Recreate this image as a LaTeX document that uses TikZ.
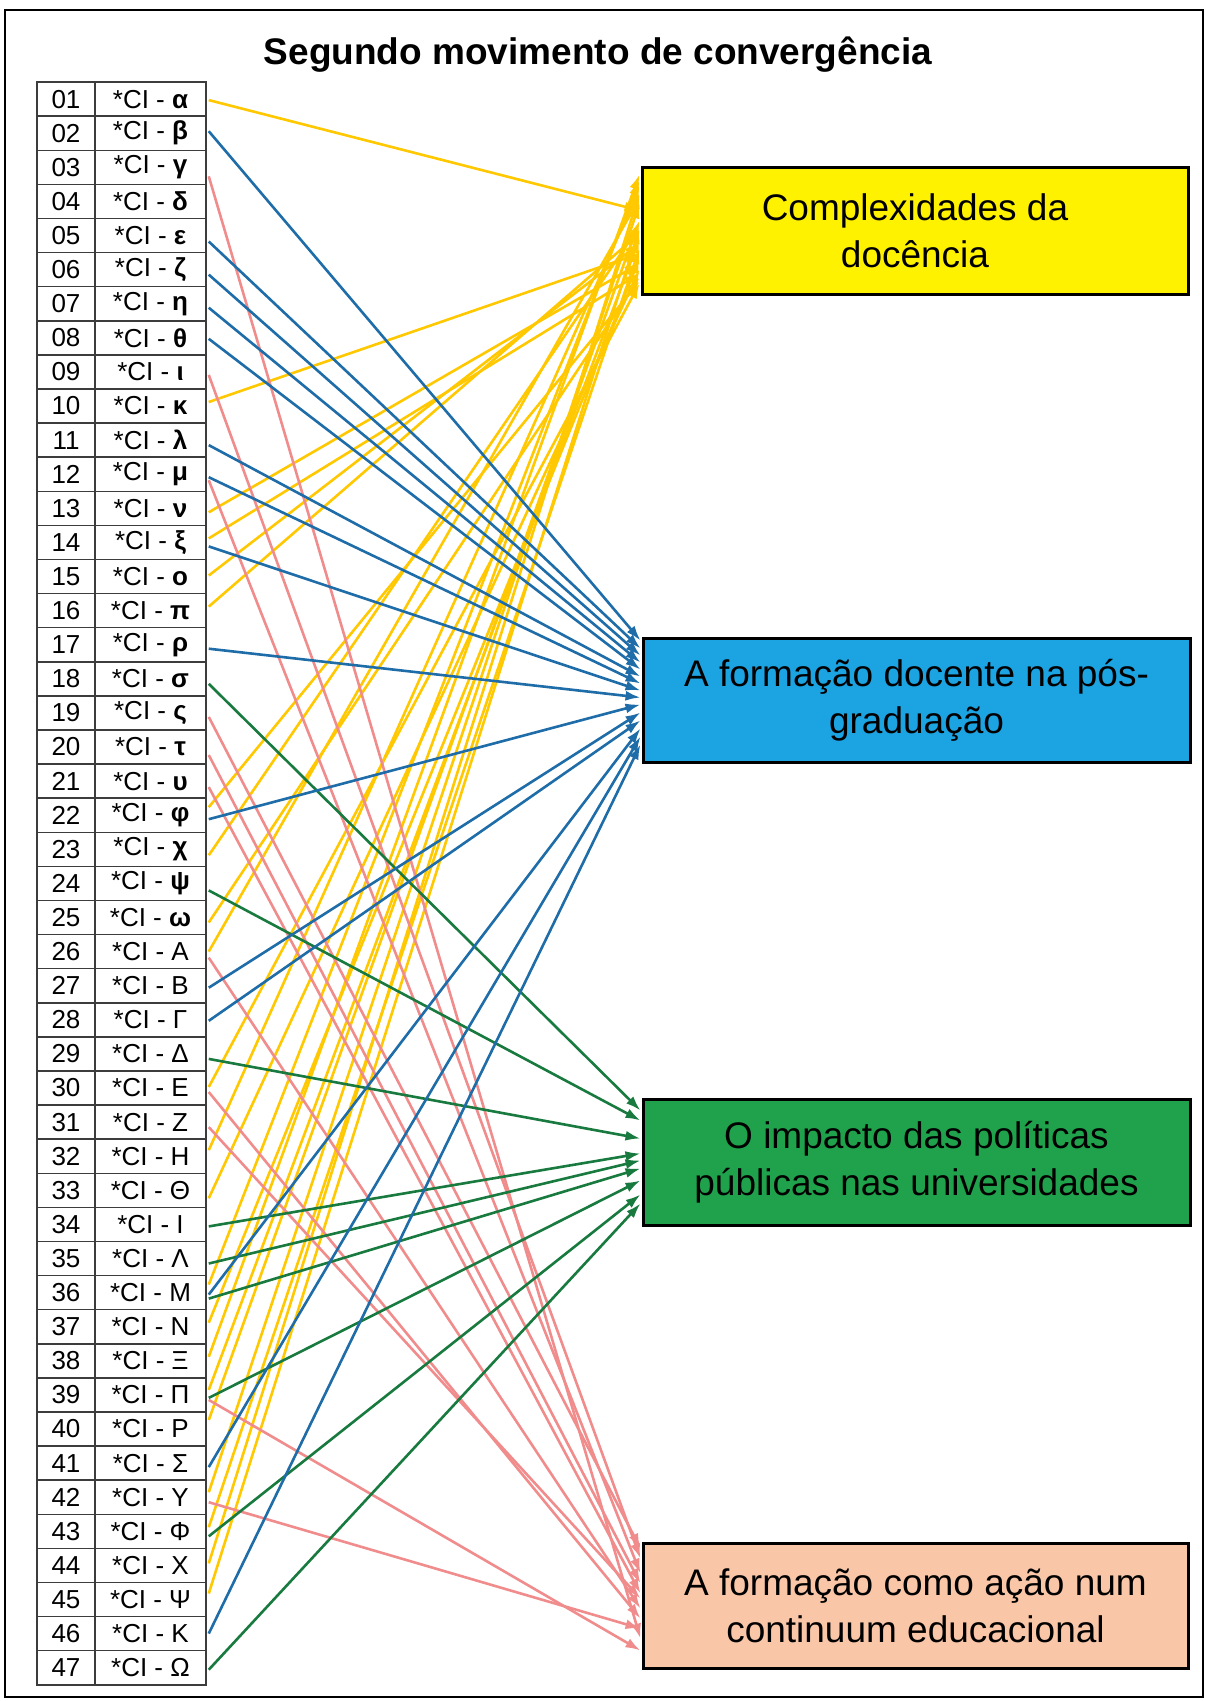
\documentclass[tikz,border=0pt]{standalone}
\usepackage{fontspec}
\setmainfont{Liberation Sans}
\usetikzlibrary{arrows.meta,calc}

\definecolor{boxyellow}{RGB}{255,242,0}
\definecolor{boxblue}{RGB}{27,163,226}
\definecolor{boxgreen}{RGB}{32,162,76}
\definecolor{boxpeach}{RGB}{249,198,168}
\definecolor{lnyellow}{RGB}{255,200,0}
\definecolor{lnblue}{RGB}{30,108,168}
\definecolor{lngreen}{RGB}{24,122,62}
\definecolor{lnpink}{RGB}{240,140,140}
\definecolor{tablegray}{RGB}{60,60,60}

\begin{document}
\begin{tikzpicture}[x=1pt,y=-1pt,
  cell/.style={draw=tablegray, line width=1.5pt, minimum height=34.1pt,
    inner sep=0pt, font=\fontsize{26}{28}\selectfont},
  numcell/.style={cell, minimum width=58pt},
  labcell/.style={cell, minimum width=111pt},
  catbox/.style={draw=black, line width=3pt, inner sep=0pt, align=center,
    font=\fontsize{37}{47}\selectfont},
  link/.style={line width=2.6pt, -{Latex[length=15pt,width=10pt]}},
]
\useasboundingbox (0,0) rectangle (1206,1701);
\draw[line width=2pt] (5,10) rectangle (1203,1697);

% title
\node[font=\fontsize{37}{40}\selectfont\bfseries, anchor=base] (title) at (598,64)
  {Segundo movimento de convergência};

% table of the 47 units
\foreach \k/\lab in {1/\textbf{α},2/\textbf{β},3/\textbf{γ},4/\textbf{δ},5/\textbf{ε},
  6/\textbf{ζ},7/\textbf{η},8/\textbf{θ},9/\textbf{ι},10/\textbf{κ},11/\textbf{λ},
  12/\textbf{μ},13/\textbf{ν},14/\textbf{ξ},15/\textbf{ο},16/\textbf{π},17/\textbf{ρ},
  18/\textbf{σ},19/\textbf{ς},20/\textbf{τ},21/\textbf{υ},22/\textbf{φ},23/\textbf{χ},
  24/\textbf{ψ},25/\textbf{ω},26/Α,27/Β,28/Γ,29/Δ,30/Ε,31/Ζ,32/Η,33/Θ,34/Ι,35/Λ,
  36/Μ,37/Ν,38/Ξ,39/Π,40/Ρ,41/Σ,42/Υ,43/Φ,44/Χ,45/Ψ,46/Κ,47/Ω}{
  \node[numcell] (n\k) at (66,{65+34.1*\k}) {\ifnum\k<10 0\fi\k};
  \node[labcell] (c\k) at (150.5,{65+34.1*\k}) {*CI - \lab};
}

% category boxes
\node[catbox, fill=boxyellow, minimum width=546pt, minimum height=127pt] (b1)
  at (915,230.5) {Complexidades da\\docência};
\node[catbox, fill=boxblue, minimum width=547pt, minimum height=124pt] (b2)
  at (916.5,700) {A formação docente na pós-\\graduação};
\node[catbox, fill=boxgreen, minimum width=547pt, minimum height=126pt] (b3)
  at (916.5,1162) {O impacto das políticas\\públicas nas universidades};
\node[catbox, fill=boxpeach, minimum width=545pt, minimum height=125pt] (b4)
  at (915.5,1605.5) {A formação como ação num\\continuum educacional};

% connectors: row / offset at the row / offset below the box top
\foreach \r/\o/\t in {1/1/45,10/-4/88,13/4/98,14/-4/108,15/-1/78,16/-4/68,22/-8/116,
  23/6/61,25/5/112,26/0/33,30/-1/118,32/-6/23,33/8/104,36/-8/15,37/-4/93,38/-4/9,
  39/-5/73,40/-9/55,42/-5/38,43/-4/83,44/-2/28,45/-6/63}
  \draw[link, lnyellow] ($(c\r.east)+(2,\o)$) -- ($(b1.north west)+(-1,\t)$);

\foreach \r/\o/\t in {3/9/97,9/3/17,12/6/32,19/4/7,20/8/42,21/6/52,26/6/67,30/4/77,
  31/5/57,39/5/109,42/5/87}
  \draw[link, lnpink] ($(c\r.east)+(2,\o)$) -- ($(b4.north west)+(-1,\t)$);

\foreach \r/\o/\t in {18/5/13,24/7/23,29/5/41,34/2/56,35/5/63,36/6/71,39/3/83,
  43/5/97,47/2/106}
  \draw[link, lngreen] ($(c\r.east)+(2,\o)$) -- ($(b3.north west)+(-1,\t)$);

\foreach \r/\o/\t in {2/-2/4,5/6/12,6/5/19,7/4/26,8/1/33,11/5/40,12/3/47,14/4/54,
  17/4/61,22/4/68,27/2/76,28/1/84,36/2/92,41/4/100,46/0/108}
  \draw[link, lnblue] ($(c\r.east)+(2,\o)$) -- ($(b2.north west)+(-1,\t)$);
\end{tikzpicture}
\end{document}
